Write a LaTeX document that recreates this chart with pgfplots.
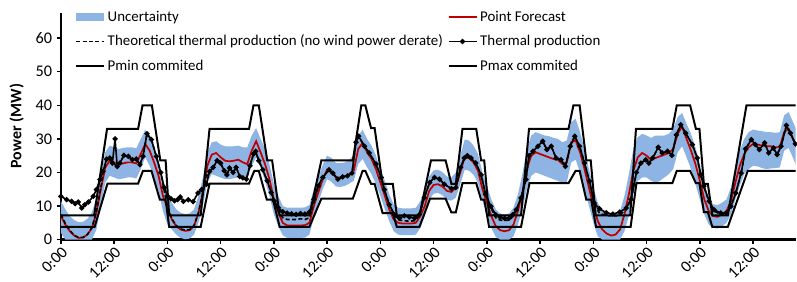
\documentclass[border=0pt]{standalone}
\usepackage{fontspec}
\setmainfont{Carlito}
\usepackage{pgfplots}
\pgfplotsset{compat=1.18}
\usepackage{pgfplotstable}
\usepgfplotslibrary{fillbetween}
\definecolor{band}{RGB}{141,180,226}
\definecolor{fcred}{RGB}{192,0,0}

\pgfplotstableread{
h fc up lo
0 7 11.5 2
1 4.5 9 0
2 2.5 7 0
3 1.2 5.8 0
4 0.5 5.2 0
5 0.6 5.3 0
6 1.5 6.2 0
7 3.5 8.2 0
8 8 12.5 3
9 15 19.5 10
10 21.5 26 17
11 23.5 28 19
12 23 27.5 18.5
13 22.5 27 18
14 22.7 27.3 18.2
15 23 27.5 18.5
16 23 27.5 18.5
17 22.7 27.2 18.2
18 25.5 30 21
19 28.5 32.7 24.5
20 26.5 31 22
21 23 27.5 18.5
22 19 23.5 14.5
23 13 17.5 8.5
24 9.5 14 4.5
25 6 11 3
26 4 9 1.5
27 3 8 0.5
28 2.6 7.6 0.1
29 2.8 7.8 0.3
30 4 9 1.5
31 8 13 5
32 14 18.5 10
33 22 26 17
34 25.3 29 19.5
35 25.8 29.3 19
36 24.5 28.3 18.5
37 23.5 27.8 18
38 23.3 27.8 18
39 23.5 27.8 18.3
40 23.8 28 18.5
41 23 27.5 18
42 22.5 27.5 18
43 26.5 31 22
44 29.3 33.2 24.5
45 26 30 21.5
46 22.5 27 17.5
47 18 22.5 13
48 12 16.5 7.5
49 8 13 4
50 5 10 1.3
51 4.2 9.5 0.5
52 4.2 9.5 0.5
53 4.2 9.5 0.5
54 4.2 9.5 0.5
55 4.3 9.6 0.6
56 5 10.3 1.5
57 10 15 6.5
58 14 18.5 11
59 18 22.3 15
60 20.8 25 18
61 20 24.3 17.2
62 18.5 22.8 15.8
63 18.5 22.8 15.7
64 18.8 23 16
65 19.5 23.8 16.7
66 20.5 25 17.5
67 27 31 22.5
68 28.8 32.7 24
69 26 30 21.5
70 24 28 19.5
71 21 25 16.5
72 17 21 13
73 13 17.5 9
74 9 13.5 5.5
75 6 10.5 2.5
76 5 9.5 1.5
77 4.8 9.3 1.3
78 4.8 9.3 1.3
79 4.8 9.3 1.3
80 5 9.5 1.5
81 7 11.5 3.5
82 10 14.5 7
83 14.5 18.8 11.8
84 16.3 20.6 13.7
85 16.5 20.8 13.9
86 15.8 20.1 13.2
87 14.5 18.8 11.9
88 14.2 18.5 11.6
89 15.5 20 12.5
90 20 25 16.5
91 24.5 29.8 20.8
92 24.3 29.5 20.5
93 23 28 19.3
94 20.5 25.5 16.8
95 15 20 11.5
96 11 16 7.5
97 7 12 3.5
98 4 9 0.8
99 2.8 7.8 0
100 2.5 7.5 0
101 2.8 7.8 0
102 4.5 9.5 1
103 8.5 13.5 4.5
104 14 19.5 9
105 21 27 15
106 25 31 19
107 26 32 20
108 25.5 31.5 19.5
109 25 31 19
110 24.5 30.8 18.5
111 24 30.3 18
112 23.8 30 17.5
113 22.5 29 16.8
114 23 29.5 17
115 29 35 23
116 29.5 36 23.8
117 26 32 20
118 21 27 15
119 15.5 21 10
120 10 15.5 5
121 5.5 11 1
122 3 8.5 0
123 1.8 7.3 0
124 1.2 6.7 0
125 1.5 7 0
126 3 8.5 0
127 7.5 13 2.5
128 13.5 19.5 7
129 20.5 27 13.5
130 24.5 30.5 17.5
131 25.8 31.5 18.5
132 25 31 18.5
133 23.8 30.3 17.5
134 24.3 31 17
135 24.8 31 17.5
136 25.3 31 18.5
137 25.8 31.5 19.5
138 27 33 21
139 31.5 36.5 26
140 33.7 37.7 27.8
141 30 34.5 24.5
142 26.5 31.5 21
143 22.5 27.5 16.5
144 17.5 22.5 12
145 12 16.5 7.5
146 8.5 12.5 4.5
147 7 10.5 3.5
148 6.8 10.3 3.3
149 7.5 11 4
150 8.5 12 5
151 11.5 15.5 7.5
152 17 21.5 12
153 22 26.5 16
154 25.5 30 19.5
155 27.5 32 21
156 28.5 32.8 22
157 28.3 32.5 21.8
158 28 32.3 21.3
159 27.8 32 21
160 27.8 32 21.2
161 27.5 31.8 21.3
162 27.5 32 21.5
163 32 37 26.5
164 33 38 27.3
165 30 35 24.3
166 27 32 21
}\fctab

\pgfplotstableread{
h th
0 12.9
1.3 11.9
2.4 11.4
3.2 10.7
3.9 11.2
4.7 9.4
5.4 10.4
6.2 11.2
7.3 12.9
8 14.9
8.8 17.9
9.5 20.3
10.3 24
11 24.3
11.6 22.8
12.2 30
12.7 21.8
13.3 22.8
14.2 25.1
15.2 24.8
16.1 23.8
17 24
17.8 22.3
18.5 24.8
19.4 31.5
20.4 29.8
21.5 24.8
22.5 20
23.3 15.5
24 13
24.8 12.2
25.6 11.6
26.3 11.9
26.9 12.7
27.6 11.4
28.7 11.9
29.8 11.3
30.9 13.9
31.7 14.9
32.8 16.5
33.5 20.3
34.3 21.5
35.2 23.5
36 22.8
36.8 20.5
37.4 19.3
38 21.3
38.8 20
39.5 21.5
40.3 18.8
41 18.4
41.8 18
42.6 22
43.4 25.5
43.9 26.3
44.6 23.5
45.5 20.8
46.5 17.5
47.4 14
48.1 11.5
49 9.5
50 8.3
51 7.9
52 7.7
53 7.5
54 7.8
55 7.6
56 8.2
57 12
58 16
59 18.5
60.4 20.8
61.3 19.8
62.4 18
63.5 18.7
64.6 19
65.6 19.8
66.5 29
67.1 30.8
68.4 27.8
69.5 25.8
71 22.5
72.2 18.5
72.9 14.9
74 10.4
75.2 7.4
76.3 6.4
77.4 7.1
78.5 6.7
79.7 6.4
80.8 7.5
81.9 12.5
83.1 17
84.2 18.5
85.3 18
86.4 16.5
88 15.2
89 15.5
90.1 21.5
90.9 24.3
91.6 25
92.4 24.3
93.5 22.8
94.7 19.3
95.7 13.5
96.9 9.9
98 7.4
99 6.7
100 6.3
101 6.4
101.8 7.4
102.6 8.9
103.7 12.4
104.8 17.9
105.5 25
106.4 26.3
107.5 27.8
108.6 29.3
109.5 26.8
110.5 27.8
111.6 24.3
112.7 23.8
113.7 21.8
114.8 27.8
115.8 30.8
116.9 27.8
118 22.8
119.1 17.4
120.2 10.9
121.4 9.2
122.9 8
124.4 7.6
125.9 8.2
127.4 9.4
128.5 12
129.7 20
130.7 22.8
131.8 23.8
132.5 22.8
133.4 24.3
134.6 27.5
135.5 25.8
136.7 26.3
137.7 25.1
138.7 31.2
139.7 34.2
140.8 31.7
142.3 28.3
143.4 24.3
144.2 19.3
144.9 15.9
146.1 11.4
147.2 8.9
148.7 7.9
149.9 7.9
151 9.9
152.1 13.9
153.3 19.8
154.3 27
155.6 29.8
156.5 28.3
157.4 26.8
158.6 28.8
159.5 25.8
160.6 27.3
161.4 25.3
162.3 27.8
163.5 34
164.4 31.7
165.5 28.5
166.5 27
}\thtab

\pgfplotstableread{
h td
0 7.5
1 4.8
2 2.7
3 1.3
4 0.6
5 0.7
6 1.6
7 3.6
8 8.3
9 15.5
9.5 19.5
10.3 23.5
11 24.3
11.6 22.8
12.2 22.3
12.7 21.8
13.3 22.8
14.2 25.1
15.2 24.8
16.1 23.8
17 24
17.8 22.3
18.5 24.8
19.4 31.5
20.4 29.8
21.5 24.8
22.5 20
23.3 14.5
24 10
25 6.2
26 4.2
27 3.2
28 2.8
29 3
30 4.2
31 8
32 14
33 19.5
33.5 20.3
34.3 21.5
35.2 23.5
36 22.8
36.8 20.5
37.4 19.3
38 21.3
38.8 20
39.5 21.5
40.3 18.8
41 18.4
41.8 18
42.6 22
43.4 25.5
43.9 26.3
44.6 23.5
45.5 20.8
46.5 17.5
47.4 14
48.1 11
49 8.5
50 6.5
51 6
52 6
53 6
54 6.2
55 6
56 6.5
57 11
58 16
59 18.5
60.4 20.8
61.3 19.8
62.4 18
63.5 18.7
64.6 19
65.6 19.8
66.5 29
67.1 30.8
68.4 27.8
69.5 25.8
71 22.5
72.2 18.5
72.9 14.9
74 10.4
75.2 7
76.3 5.8
77.4 5.6
78.5 5.5
79.7 5.6
80.8 7
81.9 12.5
83.1 17
84.2 18.5
85.3 18
86.4 16.5
88 15.2
89 15.5
90.1 21.5
90.9 24.3
91.6 25
92.4 24.3
93.5 22.8
94.7 19.3
95.7 13.5
96.9 9.5
98 6.5
99 5.8
100 5.7
101 5.8
102 7
103 10
103.7 12.4
104.8 17.9
105.5 25
106.4 26.3
107.5 27.8
108.6 29.3
109.5 26.8
110.5 27.8
111.6 24.3
112.7 23.8
113.7 21.8
114.8 27.8
115.8 30.8
116.9 27.8
118 22.8
119.1 17.4
120.2 10.5
121.4 7.8
122.9 7.2
124.4 7
125.9 7.2
127.4 9.2
128.5 12
129.7 20
130.7 22.8
131.8 23.8
132.5 22.8
133.4 24.3
134.6 27.5
135.5 25.8
136.7 26.3
137.7 25.1
138.7 31.2
139.7 34.2
140.8 31.7
142.3 28.3
143.4 24.3
144.2 19.3
144.9 15.9
146.1 11
147.2 8.5
148.7 7.5
149.9 7.6
151 9.9
152.1 13.9
153.3 19.8
154.3 27
155.6 29.8
156.5 28.3
157.4 26.8
158.6 28.8
159.5 25.8
160.6 27.3
161.4 25.3
162.3 27.8
163.5 34
164.4 31.7
165.5 28.5
166.5 27
}\tdtab

\pgfplotstableread{
h p
0 7.2
7.5 7.2
10.4 33
17.4 33
18.4 40
20.5 40
22.4 23.6
23.6 23.6
24.4 7.2
31.5 7.2
33.5 33
42.4 33
43.4 40
44.6 40
46.5 23.6
47.6 23.6
49.3 7.2
56 7.2
58.7 23.6
65.8 23.6
67.7 40
68.6 40
69.9 33.2
70.7 33.2
72.5 16.6
74.8 16.6
75.7 7.2
80.8 7.2
83.4 23.6
86.7 23.6
88 16.6
89 16.6
90.5 33
93.6 33
94.7 23.6
95.4 23.6
96.5 7.2
103.7 7.2
105.5 33
114.4 33
115.5 40
116.9 40
118.4 23.6
119.4 23.6
120.5 7.2
128.3 7.2
129.6 33
137.8 33
138.8 40
141.8 40
143.1 33
143.9 33
144.9 16.6
145.8 16.6
146.8 7.2
150.3 7.2
154.5 40
167 40
}\pmaxtab

\pgfplotstableread{
h p
0 3.8
7.6 3.8
10.5 16.7
17.4 16.7
18.5 20.5
20.4 20.5
22.3 11.9
23.6 11.9
24.4 3.8
31.5 3.8
33.5 16.7
42.4 16.7
43.6 20.5
44.6 20.5
46.4 11.9
47.8 11.9
49.3 3.8
56 3.8
58.7 12.2
65.8 12.2
68 20.5
68.6 20.5
69.9 16.6
70.7 16.6
72.5 7.9
74.8 7.9
75.7 3.8
80.8 3.8
83.2 12.2
86.7 12.2
88 8.1
89 8.1
90.5 16.8
93.6 16.8
94.7 11.9
95.4 11.9
96.5 3.8
103.7 3.8
105.6 16.8
114.4 16.8
116 20.5
116.9 20.5
118.4 11.9
119.5 11.9
120.6 3.8
128.4 3.8
129.7 16.8
137.8 16.8
138.8 20.5
141.8 20.5
143.1 16.8
143.9 16.8
144.9 8.2
145.8 8.2
146.8 3.8
150.3 3.8
154.8 20.5
167 20.5
}\pmintab

\begin{document}
\begin{tikzpicture}
\begin{axis}[
  at={(0,0)}, anchor=south west,
  scale only axis, width=552pt, height=170.5pt,
  xmin=0, xmax=165.6, ymin=0, ymax=67.6,
  axis x line*=bottom, axis y line*=left,
  axis line style={line width=1.8pt, black},
  xtick={0,12,...,156},
  xticklabels={0:00,12:00,0:00,12:00,0:00,12:00,0:00,12:00,0:00,12:00,0:00,12:00,0:00,12:00},
  ytick={0,10,...,60},
  tick align=outside, major tick length=3pt,
  tick style={black, line width=1pt},
  tick label style={font=\fontsize{12.2}{14}\selectfont},
  xticklabel style={rotate=45, anchor=north east, inner sep=1pt},
  /pgf/number format/assume math mode=true,
  ylabel={Power (MW)},
  ylabel style={at={(axis description cs:-0.044,0.5)}, anchor=south, font=\fontsize{12}{14}\selectfont\bfseries},
  legend columns=2,
  legend cell align=left,
  legend style={draw=none, fill=none, at={(axis description cs:0.019,1.021)}, anchor=north west,
    inner sep=0pt, row sep=5pt, font=\fontsize{11.2}{13}\selectfont,
    /tikz/every even column/.append style={column sep=1.5pt}},
  legend image code/.code={\draw[mark repeat=2,mark phase=2,#1] plot coordinates {(0pt,0pt) (10.5pt,0pt) (21pt,0pt)};},
]
\addplot[name path=U, draw=none, forget plot] table[x=h, y=up] {\fctab};
\addplot[name path=L, draw=none, forget plot] table[x=h, y=lo] {\fctab};
\addplot[fill=band, draw=none, area legend,
  legend image code/.code={\fill[band] (0pt,-3pt) rectangle (21pt,3pt);}] fill between[of=U and L];
\addlegendentry{Uncertainty}
\addplot[fcred, line width=1.3pt] table[x=h, y=fc] {\fctab};
\addlegendentry{Point Forecast}
\addplot[black, line width=1.2pt, dash pattern=on 3pt off 1.8pt] table[x=h, y=td] {\tdtab};
\addlegendentry{Theoretical thermal production (no wind power derate)}
\addplot[black, line width=1.2pt, mark=*, mark size=1.3pt] table[x=h, y=th] {\thtab};
\addlegendentry{Thermal production}
\addplot[black, line width=1.5pt] table[x=h, y=p] {\pmintab};
\addlegendentry{Pmin commited}
\addplot[black, line width=1.5pt] table[x=h, y=p] {\pmaxtab};
\addlegendentry{Pmax commited}
\end{axis}
\path (-45.75pt,-31.5pt) (552pt,180pt);
\end{tikzpicture}
\end{document}
